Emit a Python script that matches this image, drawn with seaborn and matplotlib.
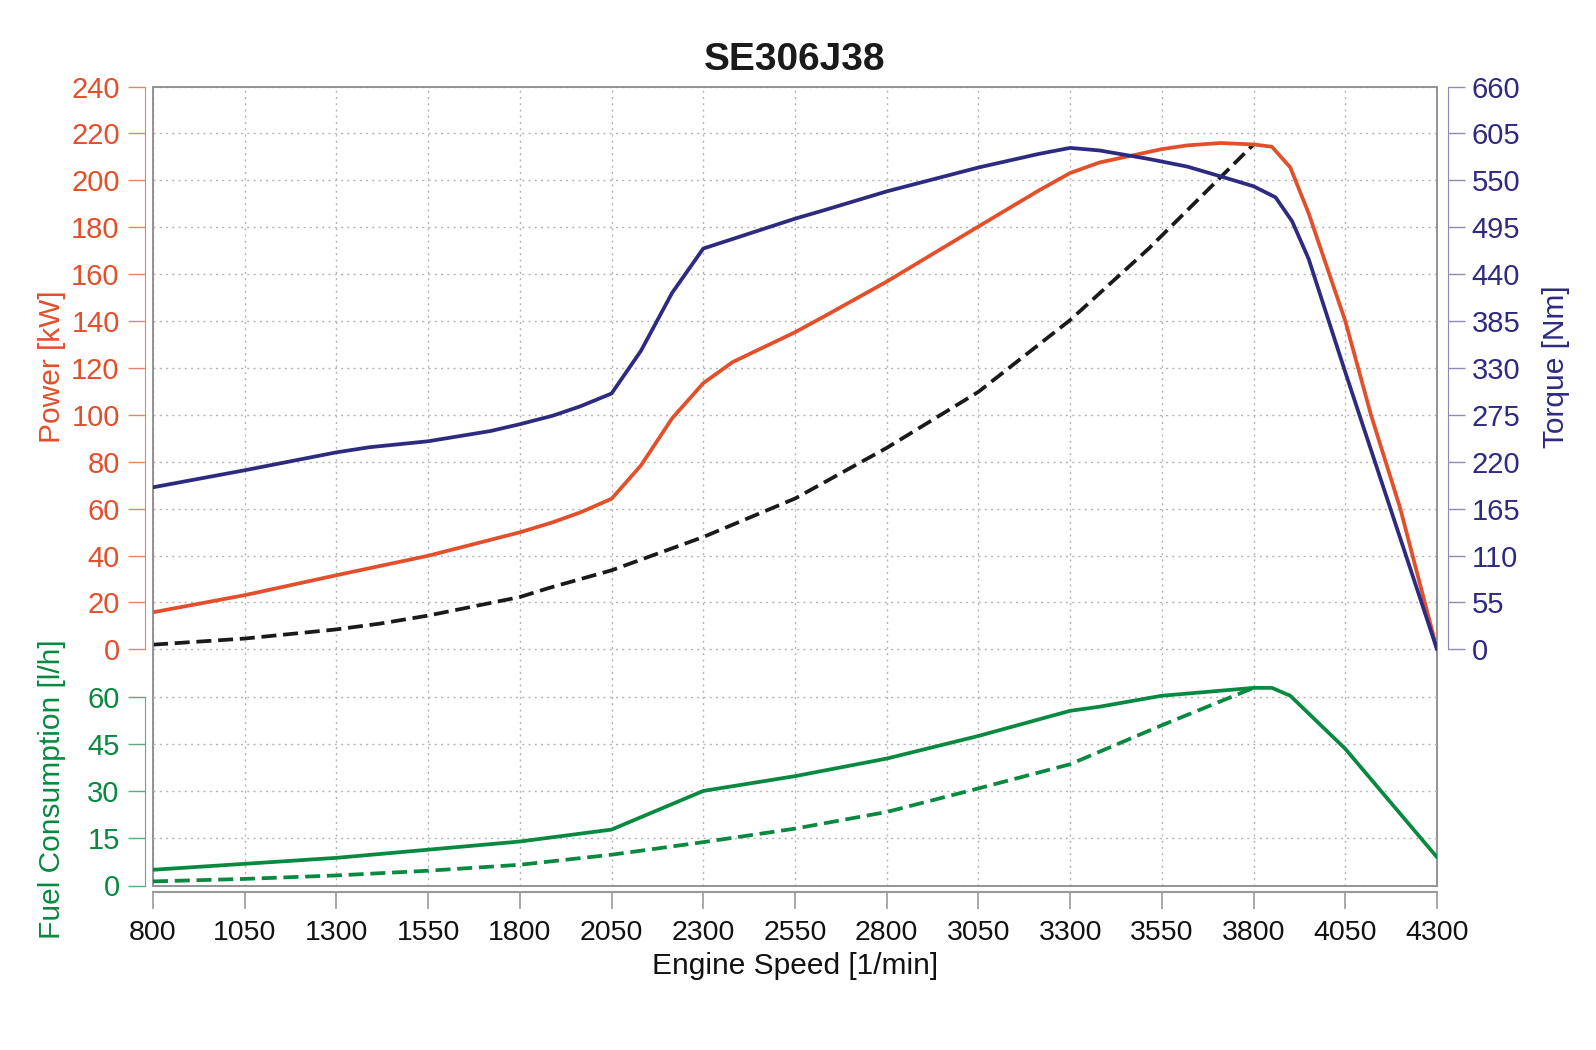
import matplotlib
matplotlib.use("Agg")
import matplotlib.pyplot as plt
from matplotlib.patches import Rectangle
import seaborn as sns

# engine curves
power_rpm = [800, 1050, 1300, 1550, 1800, 1890, 1965, 2050, 2130, 2215, 2300, 2380, 2550,
             2630, 2800, 3050, 3215, 3300, 3380, 3550, 3620, 3710, 3800, 3850, 3900, 3950,
             4000, 4050, 4120, 4200, 4300]
power_kw = [15.8, 23.1, 31.6, 39.9, 49.9, 54.2, 58.4, 64.2, 78.4, 98.5, 113.5, 122.5, 135.2,
            142.0, 156.8, 180.3, 195.7, 203.1, 207.6, 213.3, 214.9, 215.9, 215.3, 214.3, 205.5,
            186.0, 163.0, 140.0, 100.0, 60.0, 0.0]

torque_rpm = [800, 1050, 1300, 1390, 1550, 1720, 1800, 1890, 1965, 2050, 2130, 2215, 2300,
              2400, 2550, 2630, 2800, 3050, 3215, 3300, 3380, 3515, 3620, 3715, 3800, 3860,
              3905, 3950, 4050, 4300]
torque_nm = [190, 210, 231, 237, 244, 256, 264, 274, 285, 300, 350, 418, 470,
             484, 505, 515, 537, 565, 581, 588, 585, 575, 566, 554, 543, 530,
             502, 458, 325, 0]

ref_rpm = [800, 1050, 1300, 1420, 1550, 1800, 1880, 2050, 2300, 2550, 2800, 3050, 3300, 3515, 3800]
ref_kw = [2.0, 4.6, 8.5, 11.0, 14.4, 22.3, 26.2, 33.7, 47.9, 64.3, 85.9, 109.8, 140.4, 171.0, 215.3]

fuel_rpm = [800, 1050, 1300, 1550, 1800, 2050, 2300, 2550, 2800, 3050, 3300, 3380, 3550,
            3800, 3850, 3900, 4050, 4300]
fuel_lh = [5.0, 6.9, 8.8, 11.4, 14.0, 17.8, 30.1, 34.8, 40.4, 47.6, 55.6, 56.9, 60.4,
           62.9, 62.9, 60.4, 43.5, 9.0]

fuel_ref_rpm = [800, 1050, 1300, 1550, 1800, 2050, 2300, 2550, 2800, 3050, 3300, 3550, 3800]
fuel_ref_lh = [1.3, 2.1, 3.2, 4.7, 6.6, 9.8, 13.8, 18.1, 23.4, 30.9, 38.6, 51.0, 62.9]

speed_ticks = list(range(800, 4301, 250))
power_ticks = list(range(0, 241, 20))
torque_ticks = list(range(0, 661, 55))
fuel_ticks = list(range(0, 61, 15))

RED = "#E24F2A"
BLUE = "#2E2A80"
GREEN = "#07893F"
GRID = "#b4b4b4"

sns.set_style("white")
plt.rcParams["font.family"] = ["Liberation Sans", "DejaVu Sans"]

fig = plt.figure(figsize=(15.96, 10.5), dpi=100)
W, H = 1596, 1050
left, right, top, bottom = 153, 1437, 86.5, 885.5
ax = fig.add_axes([left / W, 1 - bottom / H, (right - left) / W, (bottom - top) / H])
ax_t = ax.twinx()
ax_f = ax.twinx()

ax.set_xlim(800, 4300)
ax.set_ylim(-100.7, 240)
ax_t.set_ylim(-100.7 * 2.75, 660)
ax_f.set_ylim(0, 254.3)

# lines
sns.lineplot(x=ref_rpm, y=ref_kw, ax=ax, color="#1a1a1a", lw=2.7,
             linestyle=(0, (4, 1.8)), sort=False, errorbar=None)
sns.lineplot(x=power_rpm, y=power_kw, ax=ax, color=RED, lw=2.7, sort=False, errorbar=None)
sns.lineplot(x=torque_rpm, y=torque_nm, ax=ax_t, color=BLUE, lw=2.7, sort=False, errorbar=None)
sns.lineplot(x=fuel_rpm, y=fuel_lh, ax=ax_f, color=GREEN, lw=2.7, sort=False, errorbar=None)
sns.lineplot(x=fuel_ref_rpm, y=fuel_ref_lh, ax=ax_f, color=GREEN, lw=2.7,
             linestyle=(0, (4, 1.8)), sort=False, errorbar=None)

# grid
for a in (ax, ax_f):
    a.set_axisbelow(True)
ax.set_xticks(speed_ticks)
ax.grid(True, axis="both", color=GRID, linestyle=(0, (1.5, 3)), lw=1)
ax_f.grid(True, axis="y", color=GRID, linestyle=(0, (1.5, 3)), lw=1)

# box
ax.add_patch(Rectangle((0, 0), 1, 1, transform=ax.transAxes, fill=False,
                       edgecolor="#8a8a8a", lw=1.3, zorder=5, clip_on=False))

for a in (ax, ax_t, ax_f):
    for s in a.spines.values():
        s.set_visible(False)

# power axis (left, top part)
ax.set_yticks(power_ticks)
ax.spines["left"].set_visible(True)
ax.spines["left"].set_position(("outward", 6))
ax.spines["left"].set_bounds(0, 240)
ax.spines["left"].set_color("#E58468")
ax.tick_params(axis="y", colors="#E58468", labelcolor=RED, length=12, width=1,
               labelsize=21, pad=6, left=True)
ax.set_ylabel("Power [kW]", color=RED, fontsize=21.5)
ax.yaxis.set_label_coords(-0.068, 0.649)

# x axis
ax.spines["bottom"].set_visible(True)
ax.spines["bottom"].set_position(("outward", 5))
ax.spines["bottom"].set_color("#999999")
ax.spines["bottom"].set_linewidth(1.5)
ax.tick_params(axis="x", colors="#999999", labelcolor="#111111", length=12, width=1.2,
               labelsize=20.5, pad=8, bottom=True)
ax.set_xlabel("Engine Speed [1/min]", color="#111111", fontsize=21.5)
ax.xaxis.set_label_coords(0.5, -0.083)

# torque axis (right)
ax_t.set_yticks(torque_ticks)
ax_t.spines["right"].set_visible(True)
ax_t.spines["right"].set_position(("outward", 8))
ax_t.spines["right"].set_bounds(0, 660)
ax_t.spines["right"].set_color("#8c8ab8")
ax_t.tick_params(axis="y", colors="#8c8ab8", labelcolor=BLUE, length=12, width=1,
                 labelsize=21, pad=5, right=True)
ax_t.set_ylabel("Torque [Nm]", color=BLUE, fontsize=21.5)
ax_t.yaxis.set_label_coords(1.0817, 0.649)

# fuel axis (left, bottom part)
ax_f.yaxis.tick_left()
ax_f.yaxis.set_label_position("left")
ax_f.set_yticks(fuel_ticks)
ax_f.spines["left"].set_visible(True)
ax_f.spines["left"].set_position(("outward", 6))
ax_f.spines["left"].set_bounds(0, 60)
ax_f.spines["left"].set_color("#5fa882")
ax_f.tick_params(axis="y", colors="#5fa882", labelcolor=GREEN, length=12, width=1,
                 labelsize=21, pad=6, left=True, right=False)
ax_f.set_ylabel("Fuel Consumption [l/h]", color=GREEN, fontsize=21.5)
ax_f.yaxis.set_label_coords(-0.068, 0.121)

ax.set_title("SE306J38", fontsize=28, fontweight="bold", color="#1a1a1a", pad=12)

fig.savefig("out.png", dpi=100)
